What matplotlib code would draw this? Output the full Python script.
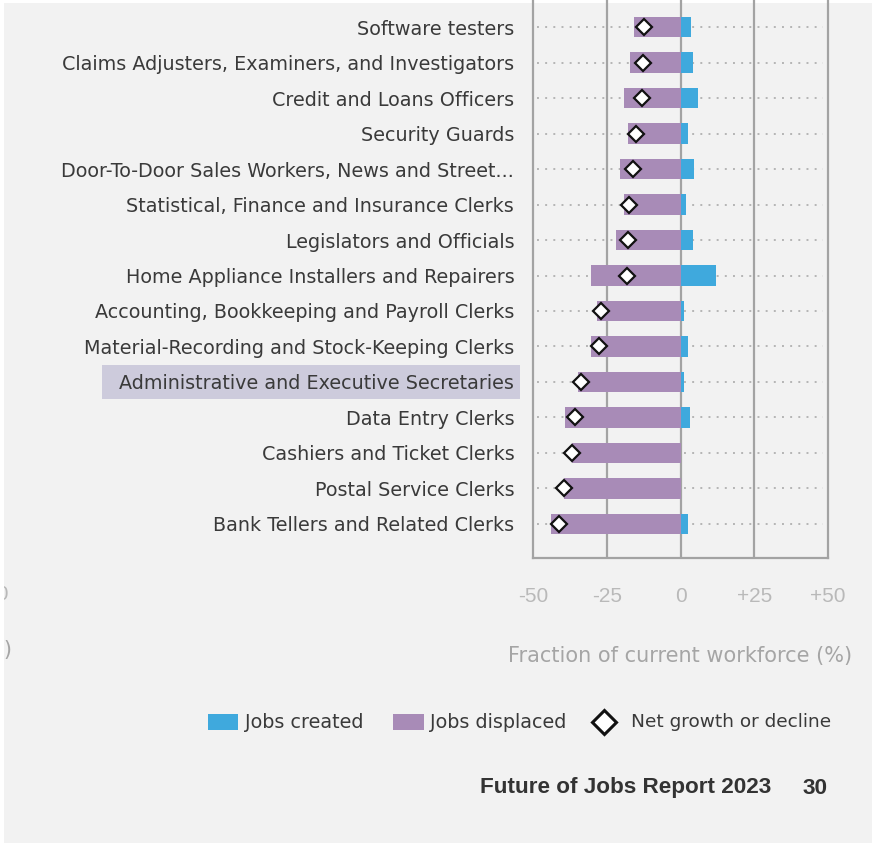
import matplotlib
matplotlib.use("Agg")
import matplotlib.pyplot as plt
import matplotlib.transforms as mtransforms
from matplotlib.patches import Rectangle
from matplotlib.lines import Line2D

occupations = [
    "Software testers",
    "Claims Adjusters, Examiners, and Investigators",
    "Credit and Loans Officers",
    "Security Guards",
    "Door-To-Door Sales Workers, News and Street...",
    "Statistical, Finance and Insurance Clerks",
    "Legislators and Officials",
    "Home Appliance Installers and Repairers",
    "Accounting, Bookkeeping and Payroll Clerks",
    "Material-Recording and Stock-Keeping Clerks",
    "Administrative and Executive Secretaries",
    "Data Entry Clerks",
    "Cashiers and Ticket Clerks",
    "Postal Service Clerks",
    "Bank Tellers and Related Clerks",
]
jobs_created = [3.4, 4.1, 6.1, 2.6, 4.7, 1.8, 4.1, 12.2, 1.2, 2.6, 1.2, 3.3, 0.0, 0.0, 2.6]
jobs_displaced = [15.8, 17.1, 19.1, 17.8, 20.5, 19.1, 22.0, 30.2, 28.2, 30.2, 34.9, 39.1, 36.9, 39.6, 43.9]
net_growth = [-12.5, -12.8, -12.9, -15.0, -16.0, -17.5, -17.9, -18.2, -26.8, -27.5, -33.7, -35.8, -36.7, -39.6, -41.2]
highlighted = "Administrative and Executive Secretaries"
xtick_values = [-50, -25, 0, 25, 50]
xtick_labels = ["-50", "-25", "0", "+25", "+50"]

W, H = 875, 843
BG = "#f2f2f2"
PURPLE = "#a88bb7"
BLUE = "#3fa9dd"
GRID = "#a3a3a3"
TXT = "#3a3a3a"

plt.rcParams["font.family"] = ["DejaVu Sans"]

fig = plt.figure(figsize=(W / 100, H / 100), dpi=100, facecolor="white")
bg = Rectangle((4 / W, 0), (872 - 4) / W, 1 - 3 / H, transform=fig.transFigure,
               facecolor=BG, edgecolor="none", zorder=-10)
fig.patches.append(bg)

ax_left, ax_right = 533, 828
ax_bottom, ax_top = 558, -7
ax = fig.add_axes([ax_left / W, 1 - ax_bottom / H, (ax_right - ax_left) / W, (ax_bottom - ax_top) / H])
ax.set_facecolor("none")

n = len(occupations)
ypos = list(range(n))
ax.set_xlim(-50, 50)
ax.set_ylim(n - 1 + 0.96, -0.96)

# dotted row guides
for y in ypos:
    ax.plot([-48.6, 48.4], [y, y], linestyle=(0, (1, 3.2)), color="#b5b5b5", lw=1.4, zorder=1)

for xv in [-25, 0, 25]:
    ax.axvline(xv, color=GRID, lw=1.6, zorder=2)

ax.barh(ypos, [-d for d in jobs_displaced], height=0.57, color=PURPLE, zorder=3)
ax.barh(ypos, jobs_created, height=0.57, color=BLUE, zorder=3)
ax.plot(net_growth, ypos, linestyle="none", marker="D", markersize=8.5,
        markerfacecolor="white", markeredgecolor="#111111", markeredgewidth=1.6, zorder=5)

for s in ["left", "right", "bottom"]:
    ax.spines[s].set_color(GRID)
    ax.spines[s].set_linewidth(1.6)
ax.spines["top"].set_visible(False)

ax.set_yticks(ypos)
ax.set_yticklabels(occupations, fontsize=13.8, color=TXT)
ax.tick_params(axis="y", length=0, pad=13.5)
ax.set_xticks(xtick_values)
ax.set_xticklabels(xtick_labels, fontsize=15, color="#b9b9b9", family="Liberation Sans")
ax.tick_params(axis="x", length=0, pad=21)
ax.set_xlabel("Fraction of current workforce (%)", fontsize=15, color="#a5a5a5", labelpad=29)

# highlight box behind the selected label
trans = mtransforms.blended_transform_factory(fig.transFigure, ax.transData)
hi = occupations.index(highlighted)
ax.add_patch(Rectangle((102 / W, hi - 0.48), (520 - 102) / W, 0.96, transform=trans,
                       facecolor="#cdcbdc", edgecolor="none", clip_on=False, zorder=0))

# cropped fragments of neighbouring panel
t1 = fig.text(9 / W, 1 - 594 / H, "+50", ha="right", va="center", fontsize=15, color="#b9b9b9",
              family="Liberation Sans")
t2 = fig.text(12 / W, 1 - 650 / H, "(%)", ha="right", va="center", fontsize=15, color="#a5a5a5")
for t in (t1, t2):
    t.set_clip_path(bg)

# legend
ly = 1 - 722 / H
fig.patches.append(Rectangle((208 / W, ly - 8 / H), 30 / W, 16 / H, transform=fig.transFigure,
                             facecolor=BLUE, edgecolor="none"))
fig.text(245 / W, ly, "Jobs created", ha="left", va="center", fontsize=13.8, color=TXT)
fig.patches.append(Rectangle((393 / W, ly - 8 / H), 31 / W, 16 / H, transform=fig.transFigure,
                             facecolor=PURPLE, edgecolor="none"))
fig.text(430 / W, ly, "Jobs displaced", ha="left", va="center", fontsize=13.8, color=TXT)
fig.lines.append(Line2D([604 / W], [ly], transform=fig.transFigure, marker="D", markersize=12,
                        markerfacecolor="white", markeredgecolor="#111111", markeredgewidth=2.2,
                        linestyle="none"))
fig.text(631 / W, ly, "Net growth or decline", ha="left", va="center", fontsize=13.3, color=TXT)

# footer
fy = 1 - 788 / H
fig.text(771 / W, fy, "Future of Jobs Report 2023", ha="right", va="center", fontsize=16.2,
         color="#333333", fontweight="bold", family="Liberation Sans")
fig.text(828 / W, fy, "30", ha="right", va="center", fontsize=16.2, color="#333333",
         fontweight="bold", family="Liberation Sans")

fig.savefig("out.png", dpi=100, facecolor="white")
